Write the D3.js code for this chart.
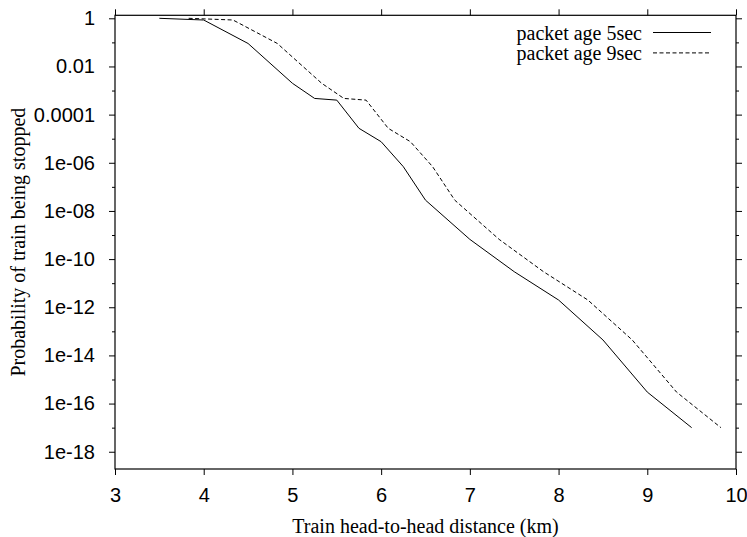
<!DOCTYPE html>
<html lang="en">
<head>
<meta charset="UTF-8">
<title>Probability of train being stopped</title>
<script src="https://d3js.org/d3.v7.min.js"></script>
<style>
    body { margin: 0; background: #fff; }
    svg { display: block; font-family: "Liberation Serif", "Times New Roman", serif; }
    .axis text { font-size: 20px; fill: #000; }
    .axis line { stroke: #000; }
    .axis path { display: none; }
</style>
</head>
<body>
<svg width="747" height="537"></svg>
<script>
    // packet age 5sec
    const distance5 = [3.5, 4.0, 4.5, 5.0, 5.25, 5.5, 5.75, 6.0, 6.25, 6.5, 7.0, 7.5, 8.0, 8.5, 9.0, 9.5];
    const prob5 = [1, 0.85, 0.09, 2e-3, 4.7e-4, 4e-4, 2.7e-5, 7.5e-6, 6.9e-7, 2.8e-8, 6.6e-10, 3e-11, 2e-12, 4.4e-14, 3e-16, 1e-17];

    // packet age 9sec
    const distance9 = [3.83, 4.33, 4.83, 5.33, 5.58, 5.83, 6.08, 6.33, 6.58, 6.83, 7.33, 7.83, 8.33, 8.83, 9.33, 9.83];
    const prob9 = [1, 0.85, 0.09, 2e-3, 4.7e-4, 4e-4, 2.7e-5, 7.5e-6, 6.9e-7, 2.8e-8, 6.6e-10, 3e-11, 2e-12, 4.4e-14, 3e-16, 1e-17];

    const seriesNames = ["packet age 5sec", "packet age 9sec"];

    const xTicks = [3, 4, 5, 6, 7, 8, 9, 10];
    const yTicks = [1, 1e-2, 1e-4, 1e-6, 1e-8, 1e-10, 1e-12, 1e-14, 1e-16, 1e-18];
    const yTickLabels = ["1", "0.01", "0.0001", "1e-06", "1e-08", "1e-10", "1e-12", "1e-14", "1e-16", "1e-18"];
    const yMinorTicks = [1e-1, 1e-3, 1e-5, 1e-7, 1e-9, 1e-11, 1e-13, 1e-15, 1e-17];

    const margin = { top: 15.3, right: 11, bottom: 68, left: 115 };
    const width = 747, height = 537;

    const svg = d3.select("svg");

    const x = d3.scaleLinear()
        .domain([3, 10])
        .range([margin.left, width - margin.right]);

    const y = d3.scaleLog()
        .domain([Math.pow(10, -18.717), Math.pow(10, 0.1246)])
        .range([height - margin.bottom, margin.top]);

    // axes, ticks pointing outwards on all four sides
    svg.append("g").attr("class", "axis")
        .attr("transform", `translate(0,${y.range()[0]})`)
        .call(d3.axisBottom(x).tickValues(xTicks).tickFormat(d3.format("d")).tickSize(6).tickPadding(13).tickSizeOuter(0));

    svg.append("g").attr("class", "axis")
        .attr("transform", `translate(0,${y.range()[1]})`)
        .call(d3.axisTop(x).tickValues(xTicks).tickFormat("").tickSize(6).tickSizeOuter(0));

    svg.append("g").attr("class", "axis")
        .attr("transform", `translate(${x.range()[0]},0)`)
        .call(d3.axisLeft(y).tickValues(yTicks).tickFormat((d, i) => yTickLabels[i]).tickSize(6).tickPadding(14).tickSizeOuter(0));

    svg.append("g").attr("class", "axis")
        .attr("transform", `translate(${x.range()[0]},0)`)
        .call(d3.axisLeft(y).tickValues(yMinorTicks).tickFormat("").tickSize(3).tickSizeOuter(0));

    svg.append("g").attr("class", "axis")
        .attr("transform", `translate(${x.range()[1]},0)`)
        .call(d3.axisRight(y).tickValues(yTicks).tickFormat("").tickSize(6).tickSizeOuter(0));

    svg.append("g").attr("class", "axis")
        .attr("transform", `translate(${x.range()[1]},0)`)
        .call(d3.axisRight(y).tickValues(yMinorTicks).tickFormat("").tickSize(3).tickSizeOuter(0));

    // plot border
    svg.append("rect")
        .attr("x", x.range()[0])
        .attr("y", y.range()[1])
        .attr("width", x.range()[1] - x.range()[0])
        .attr("height", y.range()[0] - y.range()[1])
        .attr("fill", "none")
        .attr("stroke", "#000")
        .attr("stroke-width", 1.2);

    // axis titles
    svg.append("text")
        .attr("x", (x.range()[0] + x.range()[1]) / 2)
        .attr("y", 533)
        .attr("text-anchor", "middle")
        .style("font-size", "20px")
        .text("Train head-to-head distance (km)");

    svg.append("text")
        .attr("transform", `translate(25,${(y.range()[0] + y.range()[1]) / 2}) rotate(-90)`)
        .attr("text-anchor", "middle")
        .style("font-size", "20px")
        .text("Probability of train being stopped");

    // lines
    const line = d3.line().x(d => x(d[0])).y(d => y(d[1]));
    const series = [
        { name: seriesNames[0], pts: d3.zip(distance5, prob5), dash: null },
        { name: seriesNames[1], pts: d3.zip(distance9, prob9), dash: "4,2.5" }
    ];

    svg.selectAll(".series")
        .data(series)
        .enter().append("path")
        .attr("class", "series")
        .attr("d", d => line(d.pts))
        .attr("fill", "none")
        .attr("stroke", "#000")
        .attr("stroke-width", 1)
        .attr("stroke-dasharray", d => d.dash);

    // legend
    const legend = svg.append("g");
    series.forEach((s, i) => {
        const ly = 32.5 + i * 20.4;
        legend.append("text")
            .attr("x", 642)
            .attr("y", ly + 7)
            .attr("text-anchor", "end")
            .style("font-size", "20px")
            .text(s.name);
        legend.append("line")
            .attr("x1", 653).attr("x2", 711)
            .attr("y1", ly).attr("y2", ly)
            .attr("stroke", "#000")
            .attr("stroke-width", 1)
            .attr("stroke-dasharray", s.dash);
    });
</script>
</body>
</html>
